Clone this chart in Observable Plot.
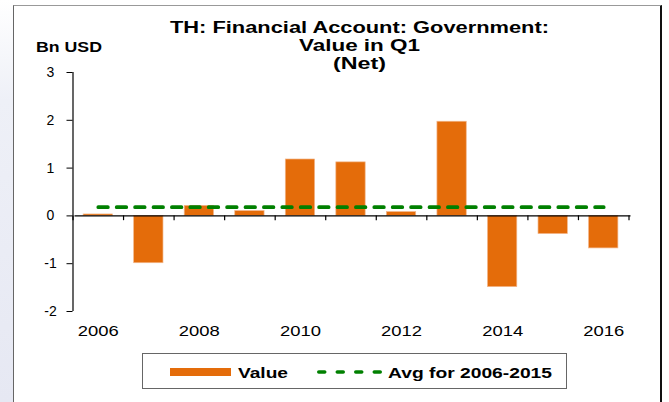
<!DOCTYPE html>
<html><head><meta charset="utf-8">
<script src="https://cdn.jsdelivr.net/npm/d3@7"></script>
<script src="https://cdn.jsdelivr.net/npm/@observablehq/plot@0.6"></script>
<style>
html,body{margin:0;padding:0;background:#fff;}
#wrap{position:relative;width:669px;height:402px;overflow:hidden;font-family:"Liberation Sans",Arial,sans-serif;}
#strip{position:absolute;left:0;top:0;width:13px;height:402px;background:linear-gradient(#ffffff 0%,#eef0f7 25%,#e6e8f3 100%);}
#frame{position:absolute;left:13px;top:5px;width:649px;height:400px;border-left:1px solid #666;border-top:1px solid #999;border-right:2px solid #111;box-sizing:border-box;background:#fff;}
#chart,#overlay{position:absolute;left:0;top:0;}
</style></head><body>
<div id="wrap"><div id="strip"></div><div id="frame"></div><div id="chart"></div><svg id="overlay" width="669" height="402"></svg></div>
<script>
// ---- data ----
const years = [2006, 2007, 2008, 2009, 2010, 2011, 2012, 2013, 2014, 2015, 2016];
const values = [0.03, -0.99, 0.21, 0.10, 1.18, 1.12, 0.08, 1.97, -1.49, -0.38, -0.68];
const avgPeriod = [2006, 2015];
const yTicks = [-2, -1, 0, 1, 2, 3];
const xTickLabels = [2006, 2008, 2010, 2012, 2014, 2016];
const titleLines = ["TH: Financial Account: Government:", "Value in Q1", "(Net)"];
const yUnit = "Bn USD";
const legendLabels = ["Value", "Avg for 2006-2015"];

const ORANGE = "#E46C0A", GREEN = "#008000";
const FONT = '"Liberation Sans", Arial, sans-serif';

const data = years.map((year, i) => ({year, value: values[i]}));
const avg = d3.mean(data.filter(d => d.year >= avgPeriod[0] && d.year <= avgPeriod[1]), d => d.value);
const avgLine = [{year: years[0], avg}, {year: years[years.length - 1], avg}];
const halfBar = 0.29;
const boundaries = d3.range(years[0] - 0.5, years[years.length - 1] + 1, 1);

const plot = Plot.plot({
  width: 669, height: 402,
  marginLeft: 72.5, marginRight: 40.5, marginTop: 72, marginBottom: 91,
  style: {background: "transparent", fontFamily: FONT, color: "#000", overflow: "visible"},
  x: {domain: [years[0] - 0.5, years[years.length - 1] + 0.5]},
  y: {domain: [yTicks[0], yTicks[yTicks.length - 1]]},
  marks: [
    Plot.rectY(data, {x1: d => d.year - halfBar, x2: d => d.year + halfBar, y1: 0, y2: "value",
      fill: ORANGE, stroke: "#F2B68A", strokeWidth: 0.7}),
    Plot.ruleY([0], {stroke: "#000", strokeWidth: 1.3, dx: 2}),
    Plot.ruleX(boundaries, {y1: 0, y2: -0.1, stroke: "#000", strokeWidth: 1.2}),
    Plot.ruleX([years[0] - 0.5], {stroke: "#000", strokeWidth: 1.2}),
    Plot.axisY({ticks: yTicks, tickSize: 6, tickPadding: 16.5, textAnchor: "middle", fontSize: 14,
      tickFormat: d => String(d), label: null, stroke: "#000"}),
    Plot.axisX({ticks: xTickLabels, tickSize: 0, tickPadding: 14, fontSize: 14.5,
      tickFormat: d => String(d), label: null}),
    Plot.lineY(avgLine, {x: "year", y: "avg", stroke: GREEN, strokeWidth: 3.7,
      strokeDasharray: "9.6,8.8", strokeLinecap: "round"})
  ]
});
document.getElementById("chart").appendChild(plot);
plot.querySelectorAll('g[aria-label="x-axis tick label"] text').forEach(t => {
  t.setAttribute("textLength", 41); t.setAttribute("lengthAdjust", "spacingAndGlyphs");
});
plot.querySelectorAll('g[aria-label="y-axis tick label"] text').forEach(t => {
  t.setAttribute("fill", "#000");
});

// ---- titles and legend overlay ----
const ov = d3.select("#overlay").style("font-family", FONT);
const titleBase = [33, 51, 68.5], titleWidths = [379, 121, 53];
titleLines.forEach((s, i) => {
  ov.append("text").attr("x", 359.5).attr("y", titleBase[i]).attr("text-anchor", "middle")
    .attr("font-size", 16).attr("font-weight", "bold")
    .attr("textLength", titleWidths[i]).attr("lengthAdjust", "spacingAndGlyphs").text(s);
});
ov.append("text").attr("x", 69).attr("y", 52).attr("text-anchor", "middle")
  .attr("font-size", 14.5).attr("font-weight", "bold")
  .attr("textLength", 66).attr("lengthAdjust", "spacingAndGlyphs").text(yUnit);

const lg = ov.append("g");
lg.append("rect").attr("x", 142.5).attr("y", 353.5).attr("width", 424).attr("height", 35)
  .attr("fill", "#fff").attr("stroke", "#666");
lg.append("rect").attr("x", 170).attr("y", 368).attr("width", 61).attr("height", 8).attr("fill", ORANGE);
lg.append("text").attr("x", 238).attr("y", 377.5).attr("font-size", 15.5).attr("font-weight", "bold")
  .attr("textLength", 50).attr("lengthAdjust", "spacingAndGlyphs").text(legendLabels[0]);
lg.append("line").attr("x1", 318.75).attr("x2", 380.25).attr("y1", 372).attr("y2", 372)
  .attr("stroke", GREEN).attr("stroke-width", 3.5).attr("stroke-dasharray", "6,12.5").attr("stroke-linecap", "round");
lg.append("text").attr("x", 388).attr("y", 377.5).attr("font-size", 15.5).attr("font-weight", "bold")
  .attr("textLength", 164).attr("lengthAdjust", "spacingAndGlyphs").text(legendLabels[1]);
</script>
</body></html>
